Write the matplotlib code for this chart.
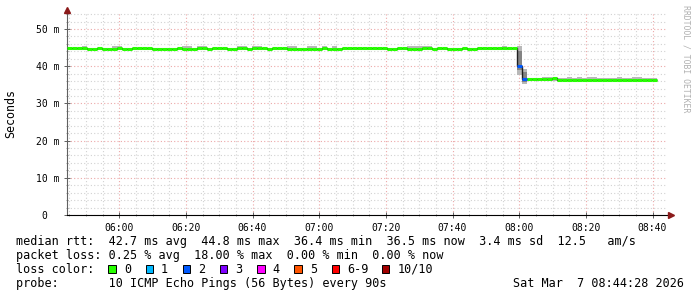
import datetime as dt
import matplotlib
matplotlib.use('Agg')
import matplotlib.pyplot as plt
import matplotlib.dates as mdates
from matplotlib.patches import Rectangle

# smokeping style latency graph, 3 hours, one step every 90 s
start = dt.datetime(2026, 3, 7, 5, 44, 28)
end = start + dt.timedelta(hours=3)
step_s = 90

# median rtt per step (ms)
median_ms = [
    44.8, 44.8, 44.8, 44.8, 44.6, 44.6, 44.8, 44.6, 44.6, 44.6,
    44.8, 44.6, 44.6, 44.8, 44.8, 44.8, 44.8, 44.6, 44.6, 44.6,
    44.6, 44.6, 44.8, 44.6, 44.6, 44.6, 44.8, 44.8, 44.6, 44.8,
    44.8, 44.8, 44.6, 44.6, 44.8, 44.8, 44.6, 44.8, 44.8, 44.8,
    44.6, 44.8, 44.8, 44.8, 44.6, 44.6, 44.6, 44.6, 44.6, 44.6,
    44.6, 44.8, 44.6, 44.6, 44.6, 44.8, 44.8, 44.8, 44.8, 44.8,
    44.8, 44.8, 44.8, 44.8, 44.6, 44.6, 44.8, 44.8, 44.6, 44.6,
    44.6, 44.8, 44.8, 44.6, 44.8, 44.8, 44.6, 44.6, 44.6, 44.8,
    44.6, 44.6, 44.8, 44.8, 44.8, 44.8, 44.8, 44.8, 44.8, 44.8,
    40.0, 36.6,
    36.5, 36.5, 36.5, 36.5, 36.5, 36.7, 36.4, 36.4, 36.4, 36.4,
    36.4, 36.4, 36.4, 36.4, 36.4, 36.4, 36.4, 36.4, 36.4, 36.4,
    36.4, 36.4, 36.4, 36.4, 36.4, 36.4,
]

# lost pings (out of 10) per step
loss_count = [0] * 90 + [2, 2] + [0] * 26

# smoke: spread of the individual pings (ms)
smoke_hi = [
    45.0, 45.0, 45.0, 45.4, 45.0, 45.0, 45.0, 45.0, 45.0, 45.4,
    45.4, 45.0, 45.0, 45.0, 45.0, 45.0, 45.0, 45.0, 45.0, 45.0,
    45.0, 45.0, 45.0, 45.4, 45.4, 45.0, 45.4, 45.4, 45.0, 45.0,
    45.0, 45.0, 45.0, 45.0, 45.4, 45.4, 45.0, 45.4, 45.4, 45.0,
    45.0, 45.0, 45.0, 45.0, 45.4, 45.4, 45.0, 45.0, 45.4, 45.4,
    45.0, 45.4, 45.0, 45.4, 45.0, 45.0, 45.0, 45.0, 45.0, 45.0,
    45.0, 45.0, 45.0, 45.0, 45.0, 45.0, 45.0, 45.0, 45.4, 45.4,
    45.4, 45.4, 45.4, 45.0, 45.0, 45.0, 45.0, 45.0, 45.0, 45.0,
    45.0, 45.0, 45.0, 45.0, 45.0, 45.0, 45.0, 45.4, 45.0, 45.0,
    45.3, 39.2,
    36.8, 36.8, 36.8, 37.2, 37.2, 36.8, 36.8, 36.8, 37.2, 36.8,
    37.2, 36.8, 37.2, 37.2, 36.8, 36.8, 36.8, 36.8, 37.2, 36.8,
    36.8, 37.2, 37.2, 36.8, 36.8, 36.8,
]
smoke_lo = [44.4] * 90 + [37.6, 35.2] + [
    36.1, 36.1, 36.1, 36.1, 36.1, 36.1, 36.1, 36.1, 36.1, 36.1,
    36.1, 36.1, 36.1, 36.1, 36.1, 36.1, 36.1, 35.9, 35.9, 35.9,
    36.1, 36.1, 36.1, 36.1, 36.1, 36.1,
]
# darker core of the smoke on the two lossy steps
core_steps = [90, 91]
core_lo = [39.0, 35.8]
core_hi = [44.0, 38.4]

yticks = [0, 10, 20, 30, 40, 50]
ytick_labels = ['0  ', '10 m', '20 m', '30 m', '40 m', '50 m']

loss_labels = ['0', '1', '2', '3', '4', '5', '6-9', '10/10']
loss_colors = ['#26ff00', '#00b8ff', '#0059ff', '#7e00ff', '#ff00ff',
               '#ff5500', '#ff0000', '#a10000']

stats_lines = [
    'median rtt:  42.7 ms avg  44.8 ms max  36.4 ms min  36.5 ms now  3.4 ms sd  12.5   am/s',
    'packet loss: 0.25 % avg  18.00 % max  0.00 % min  0.00 % now',
]
probe_text = 'probe:       10 ICMP Echo Pings (56 Bytes) every 90s'
stamp_text = 'Sat Mar  7 08:44:28 2026'


def loss_color(n):
    if n <= 5:
        return loss_colors[n]
    if n < 10:
        return loss_colors[6]
    return loss_colors[7]


W, H = 697, 297
MONO = 'DejaVu Sans Mono'
fig = plt.figure(figsize=(W / 100, H / 100), dpi=100)
fig.patch.set_facecolor('white')

# pixel-space overlay for legend text and boxes
lax = fig.add_axes([0, 0, 1, 1], zorder=0)
lax.set_xlim(0, W)
lax.set_ylim(H, 0)
lax.set_axis_off()

x0, x1, ytop, ybot = 67.4, 667.4, 13, 215
ax = fig.add_axes([x0 / W, (H - ybot) / H, (x1 - x0) / W, (ybot - ytop) / H], zorder=1)
ax.set_facecolor('none')

edges = [start + dt.timedelta(seconds=step_s * i) for i in range(len(median_ms) + 1)]
edges_num = mdates.date2num(edges)

ax.stairs(smoke_hi, edges_num, baseline=smoke_lo, fill=True, color='#b8b8b8', lw=0, zorder=2)
for k, s in enumerate(core_steps):
    ax.fill_between([edges_num[s], edges_num[s + 1]], core_lo[k], core_hi[k],
                    color='#848484', lw=0, zorder=2.5)
ax.stairs(median_ms, edges_num, color='#202020', lw=1.0, baseline=None, zorder=3)
ax.hlines(median_ms, edges_num[:-1], edges_num[1:],
          colors=[loss_color(n) for n in loss_count], lw=2.2, zorder=4)

ax.set_xlim(mdates.date2num(start), mdates.date2num(end))
ax.set_ylim(0, (ybot - ytop) / 3.72)

ax.xaxis.set_major_locator(mdates.MinuteLocator(byminute=[0, 20, 40]))
ax.xaxis.set_minor_locator(mdates.MinuteLocator(byminute=range(0, 60, 5)))
ax.xaxis.set_major_formatter(mdates.DateFormatter('%H:%M'))
ax.set_yticks(yticks)
ax.set_yticklabels(ytick_labels)
ax.set_yticks(range(0, 55, 2), minor=True)

ax.set_axisbelow(True)
ax.grid(which='minor', color='#d2d2d2', linestyle=(0, (1, 2)), lw=0.8)
ax.grid(which='major', color='#eca8a8', linestyle=(0, (1, 2)), lw=0.8)

for side in ('top', 'right'):
    ax.spines[side].set_visible(False)
ax.spines['left'].set_color('#606060')
ax.spines['bottom'].set_color('black')
ax.spines['left'].set_linewidth(0.8)
ax.spines['bottom'].set_linewidth(0.8)

ax.tick_params(which='major', direction='inout', length=4, width=0.7, color='#606060',
               labelsize=7, pad=3.5)
ax.tick_params(which='minor', direction='inout', length=2, width=0.6, color='#909090')
for lab in ax.get_xticklabels() + ax.get_yticklabels():
    lab.set_fontfamily(MONO)

# axis arrows
ax.plot([0], [1 + 3 / 202], marker='^', color='#8b1a1a', ms=4, transform=ax.transAxes,
        clip_on=False, zorder=5)
ax.plot([1 + 4 / 600], [0], marker='>', color='#8b1a1a', ms=4, transform=ax.transAxes,
        clip_on=False, zorder=5)

# labels
fig.text(11 / W, 1 - 114 / H, 'Seconds', rotation=90, ha='center', va='center',
         fontsize=8.4, family=MONO)
fig.text(686 / W, 1 - 5 / H, 'RRDTOOL / TOBI OETIKER', rotation=-90, ha='center', va='top',
         fontsize=5.9, family=MONO, color='#b0b0b0')

# legend block
fs = 8.5
lax.text(16, 245, stats_lines[0], fontsize=fs, family=MONO, va='baseline')
lax.text(16, 259, stats_lines[1], fontsize=fs, family=MONO, va='baseline')
lax.text(16, 272.7, 'loss color:', fontsize=fs, family=MONO, va='baseline')
for i, (lab, col) in enumerate(zip(loss_labels, loss_colors)):
    bx = 108.3 + 37.2 * i if i < 7 else 381.7
    lax.add_patch(Rectangle((bx, 265.0), 7.5, 7.5, facecolor=col, edgecolor='black', lw=0.7))
    lax.text(bx + 15.5, 272.7, lab, fontsize=fs, family=MONO, va='baseline')
lax.text(16, 286.7, probe_text, fontsize=fs, family=MONO, va='baseline')
lax.text(513.3, 286.7, stamp_text, fontsize=fs, family=MONO, va='baseline')

fig.savefig('out.png', dpi=100, facecolor='white')
